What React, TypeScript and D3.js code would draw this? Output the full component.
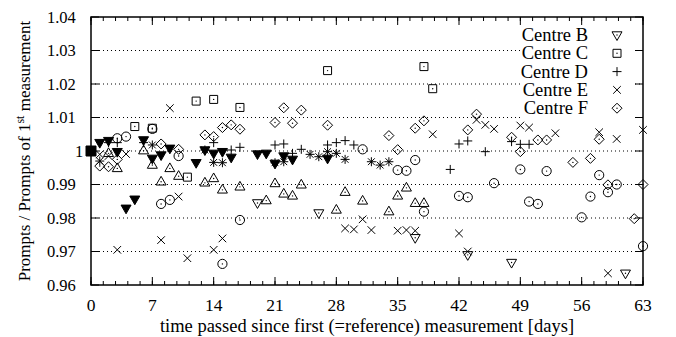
import * as React from 'react';
import * as d3 from 'd3';

// days since reference measurement / normalized prompts
const centreBDays = [19, 26, 37, 43, 48, 61];
const centreBVals = [0.9845, 0.9815, 0.9741, 0.969, 0.9667, 0.9635];

const centreCDays = [5, 7, 11, 12, 14, 17, 27, 38, 39];
const centreCVals = [1.0073, 1.0068, 0.9922, 1.0149, 1.0154, 1.013, 1.024, 1.0252, 1.0186];

const centreDDays = [2, 3, 6, 14, 16, 17, 21, 22, 23, 24, 27, 28, 29, 30, 41, 42, 43, 45, 48, 49, 50];
const centreDVals = [1.0025, 1.0025, 1.0025, 1.0025, 1.0003, 1.0011, 1.0018, 1.0021, 0.9993, 1.0005, 1.0018, 1.0025, 1.0031, 1.0018, 0.9945, 1.0021, 1.003, 0.9998, 1.0028, 1.002, 1.002];

const centreEDays = [1, 2, 3, 4, 8, 9, 10, 11, 14, 15, 29, 30, 31, 32, 35, 36, 37, 39, 42, 43, 44, 45, 46, 49, 50, 53, 58, 59, 60, 63];
const centreEVals = [0.999, 0.9985, 0.9705, 0.9991, 0.9734, 1.0128, 0.9864, 0.968, 0.9705, 0.9739, 0.9769, 0.9766, 0.9796, 0.9764, 0.9762, 0.9764, 0.9762, 1.005, 0.9754, 0.970, 1.0093, 1.0078, 1.0066, 1.0076, 1.007, 1.0053, 1.0056, 0.9635, 1.0036, 1.0063];

const centreFDays = [1, 2, 3, 8, 10, 13, 14, 15, 16, 17, 21, 22, 23, 24, 27, 34, 35, 37, 38, 43, 44, 48, 49, 51, 52, 55, 57, 58, 59, 62, 63];
const centreFVals = [0.9955, 0.9953, 0.9975, 1.0021, 1.0005, 1.0048, 1.0043, 1.007, 1.0078, 1.0065, 1.0085, 1.0129, 1.0083, 1.0122, 1.0077, 1.0046, 1.0004, 1.0068, 1.009, 1.0063, 1.011, 1.0041, 0.9998, 1.0033, 1.0033, 0.9966, 0.9978, 1.0035, 0.9899, 0.9798, 0.990];

// centres plotted without a key entry
const circleDays = [3, 4, 7, 8, 9, 10, 15, 17, 31, 35, 36, 37, 38, 42, 43, 46, 49, 50, 51, 52, 56, 57, 58, 59, 60, 63];
const circleVals = [1.0038, 1.0043, 1.0066, 0.9842, 0.9854, 0.9985, 0.9663, 0.9794, 1.0005, 0.9943, 0.9941, 0.9973, 0.9819, 0.9866, 0.9862, 0.9904, 0.9945, 0.9849, 0.9842, 0.994, 0.9802, 0.9864, 0.9928, 0.9877, 0.990, 0.9716];

const triUpDays = [2, 3, 6, 7, 8, 9, 10, 13, 14, 15, 17, 20, 21, 22, 23, 24, 28, 29, 31, 34, 35, 36, 37, 38];
const triUpVals = [0.9993, 0.9948, 1.0001, 0.9958, 0.9908, 0.9948, 0.9925, 0.9905, 0.9918, 0.9884, 0.9893, 0.9852, 0.9903, 0.9872, 0.9866, 0.9899, 0.9824, 0.9877, 0.9851, 0.9819, 0.9866, 0.989, 0.9844, 0.9844];

const triDownDays = [1, 2, 3, 4, 5, 6, 7, 8, 9, 12, 13, 14, 15, 16, 19, 20, 21, 22, 23, 27];
const triDownVals = [1.0025, 1.0031, 0.9998, 0.9829, 0.9856, 1.0033, 0.9978, 0.9988, 1.0008, 0.9965, 1.0003, 0.9993, 0.9998, 0.9981, 0.9991, 0.9993, 0.9963, 0.9985, 0.9975, 0.9978];

const starDays = [1, 7, 13, 14, 15, 21, 22, 25, 26, 27, 28, 29, 32, 33, 34];
const starVals = [0.997, 1.0018, 1.0003, 0.9966, 0.9965, 0.9965, 0.9968, 0.999, 0.9983, 0.9998, 0.9993, 0.9975, 0.9968, 0.9958, 0.9968];

const refDays = [0];
const refVals = [1.0];

const xTicks = [0, 7, 14, 21, 28, 35, 42, 49, 56, 63];
const yTicks = [0.96, 0.97, 0.98, 0.99, 1.0, 1.01, 1.02, 1.03, 1.04];
const yTickLabels = ['0.96', '0.97', '0.98', '0.99', '1', '1.01', '1.02', '1.03', '1.04'];

const series = [
  {name: 'ref', days: refDays, vals: refVals, shape: 'squareFilled', title: null},
  {name: 'star', days: starDays, vals: starVals, shape: 'star', title: null},
  {name: 'triDown', days: triDownDays, vals: triDownVals, shape: 'triDownFilled', title: null},
  {name: 'triUp', days: triUpDays, vals: triUpVals, shape: 'triUp', title: null},
  {name: 'circle', days: circleDays, vals: circleVals, shape: 'circle', title: null},
  {name: 'B', days: centreBDays, vals: centreBVals, shape: 'triDown', title: 'Centre B'},
  {name: 'C', days: centreCDays, vals: centreCVals, shape: 'square', title: 'Centre C'},
  {name: 'D', days: centreDDays, vals: centreDVals, shape: 'plus', title: 'Centre D'},
  {name: 'E', days: centreEDays, vals: centreEVals, shape: 'cross', title: 'Centre E'},
  {name: 'F', days: centreFDays, vals: centreFVals, shape: 'diamond', title: 'Centre F'},
];

const W = 676, H = 337;
const m = {left: 91, right: 643, top: 17, bottom: 285};
const font = '"Liberation Serif", "Times New Roman", serif';
const bigFont = 18.5;

const paths: Record<string, string> = {
  plus: 'M-4.5,0H4.5M0,-4.5V4.5',
  cross: 'M-3.8,-3.8L3.8,3.8M-3.8,3.8L3.8,-3.8',
  star: 'M-4.5,0H4.5M0,-4.5V4.5M-3.4,-3.4L3.4,3.4M-3.4,3.4L3.4,-3.4',
  square: 'M-4,-4H4V4H-4Z',
  squareFilled: 'M-5,-5H5V5H-5Z',
  triUp: 'M0,-5.5L5,3.2L-5,3.2Z',
  triDown: 'M0,5.5L5,-3.2L-5,-3.2Z',
  triDownFilled: 'M0,5.5L5,-3.2L-5,-3.2Z',
  diamond: 'M0,-5L5,0L0,5L-5,0Z',
};

function Marker({shape, x, y}: {shape: string; x: number; y: number}) {
  const filled = shape.endsWith('Filled');
  const open = ['square', 'triUp', 'triDown', 'diamond', 'circle'].includes(shape);
  return (
    <g transform={`translate(${x},${y})`}>
      {shape === 'circle'
        ? <circle r={4.6} fill="none" stroke="#000" strokeWidth={1} />
        : <path d={paths[shape]} fill={filled ? '#000' : 'none'} stroke="#000" strokeWidth={1} />}
      {open && <circle r={0.7} fill="#000" />}
    </g>
  );
}

export default function App() {
  const x = d3.scaleLinear().domain([0, 63]).range([m.left, m.right]);
  const y = d3.scaleLinear().domain([0.96, 1.04]).range([m.bottom, m.top]);
  const minor = d3.range(0, 63.001, 1.4);
  const legendRows = series.filter(s => s.title);

  return (
    <svg width={W} height={H} style={{position: 'absolute', left: 0, top: 0, background: '#fff'}}
      fontFamily={font}>
      {/* grid */}
      {yTicks.slice(1, -1).map(v => (
        <line key={'g' + v} x1={m.left} x2={m.right} y1={y(v)} y2={y(v)}
          stroke="#000" strokeWidth={1} strokeDasharray="1,3" />
      ))}
      {/* ticks */}
      {yTicks.map(v => (
        <g key={'yt' + v}>
          <line x1={m.left} x2={m.left + 8} y1={y(v)} y2={y(v)} stroke="#000" />
          <line x1={m.right} x2={m.right - 8} y1={y(v)} y2={y(v)} stroke="#000" />
        </g>
      ))}
      {minor.map(d => (
        <g key={'mt' + d}>
          <line x1={x(d)} x2={x(d)} y1={m.bottom} y2={m.bottom - 4} stroke="#000" />
          <line x1={x(d)} x2={x(d)} y1={m.top} y2={m.top + 4} stroke="#000" />
        </g>
      ))}
      {xTicks.map(d => (
        <g key={'xt' + d}>
          <line x1={x(d)} x2={x(d)} y1={m.bottom} y2={m.bottom - 8} stroke="#000" />
          <line x1={x(d)} x2={x(d)} y1={m.top} y2={m.top + 8} stroke="#000" />
          <text x={x(d)} y={311} textAnchor="middle" fontSize={17.5}>{d}</text>
        </g>
      ))}
      {/* gnuplot-style justification: start = anchor - chars * estimated width */}
      {yTicks.map((v, i) => (
        <text key={'yl' + v} x={84.3 - yTickLabels[i].length * 9.33} y={y(v) + 5.5} fontSize={16.5}>
          {yTickLabels[i]}
        </text>
      ))}
      {/* points */}
      {series.map(s => (
        <g key={s.name}>
          {s.days.map((d, i) => <Marker key={i} shape={s.shape} x={x(d)} y={y(s.vals[i])} />)}
        </g>
      ))}
      {/* key */}
      <rect x={522} y={25} width={113} height={93} fill="#fff" />
      {legendRows.map((s, i) => {
        const cy = 35 + i * 18.3;
        return (
          <g key={'lg' + s.name}>
            <text x={588} y={cy + 6} textAnchor="end" fontSize={bigFont}>{s.title}</text>
            <Marker shape={s.shape} x={617} y={cy} />
          </g>
        );
      })}
      {/* frame */}
      <rect x={m.left} y={m.top} width={m.right - m.left} height={m.bottom - m.top}
        fill="none" stroke="#000" strokeWidth={1.5} />
      {/* axis titles */}
      <text x={(m.left + m.right) / 2} y={331.5} textAnchor="middle" fontSize={bigFont}>
        time passed since first (=reference) measurement [days]
      </text>
      <text transform={`translate(30,${(m.top + m.bottom) / 2}) rotate(-90)`} textAnchor="middle" fontSize={17}>
        Prompts / Prompts of 1<tspan dy={-6} fontSize={12}>st</tspan><tspan dy={6}> measurement</tspan>
      </text>
    </svg>
  );
}
